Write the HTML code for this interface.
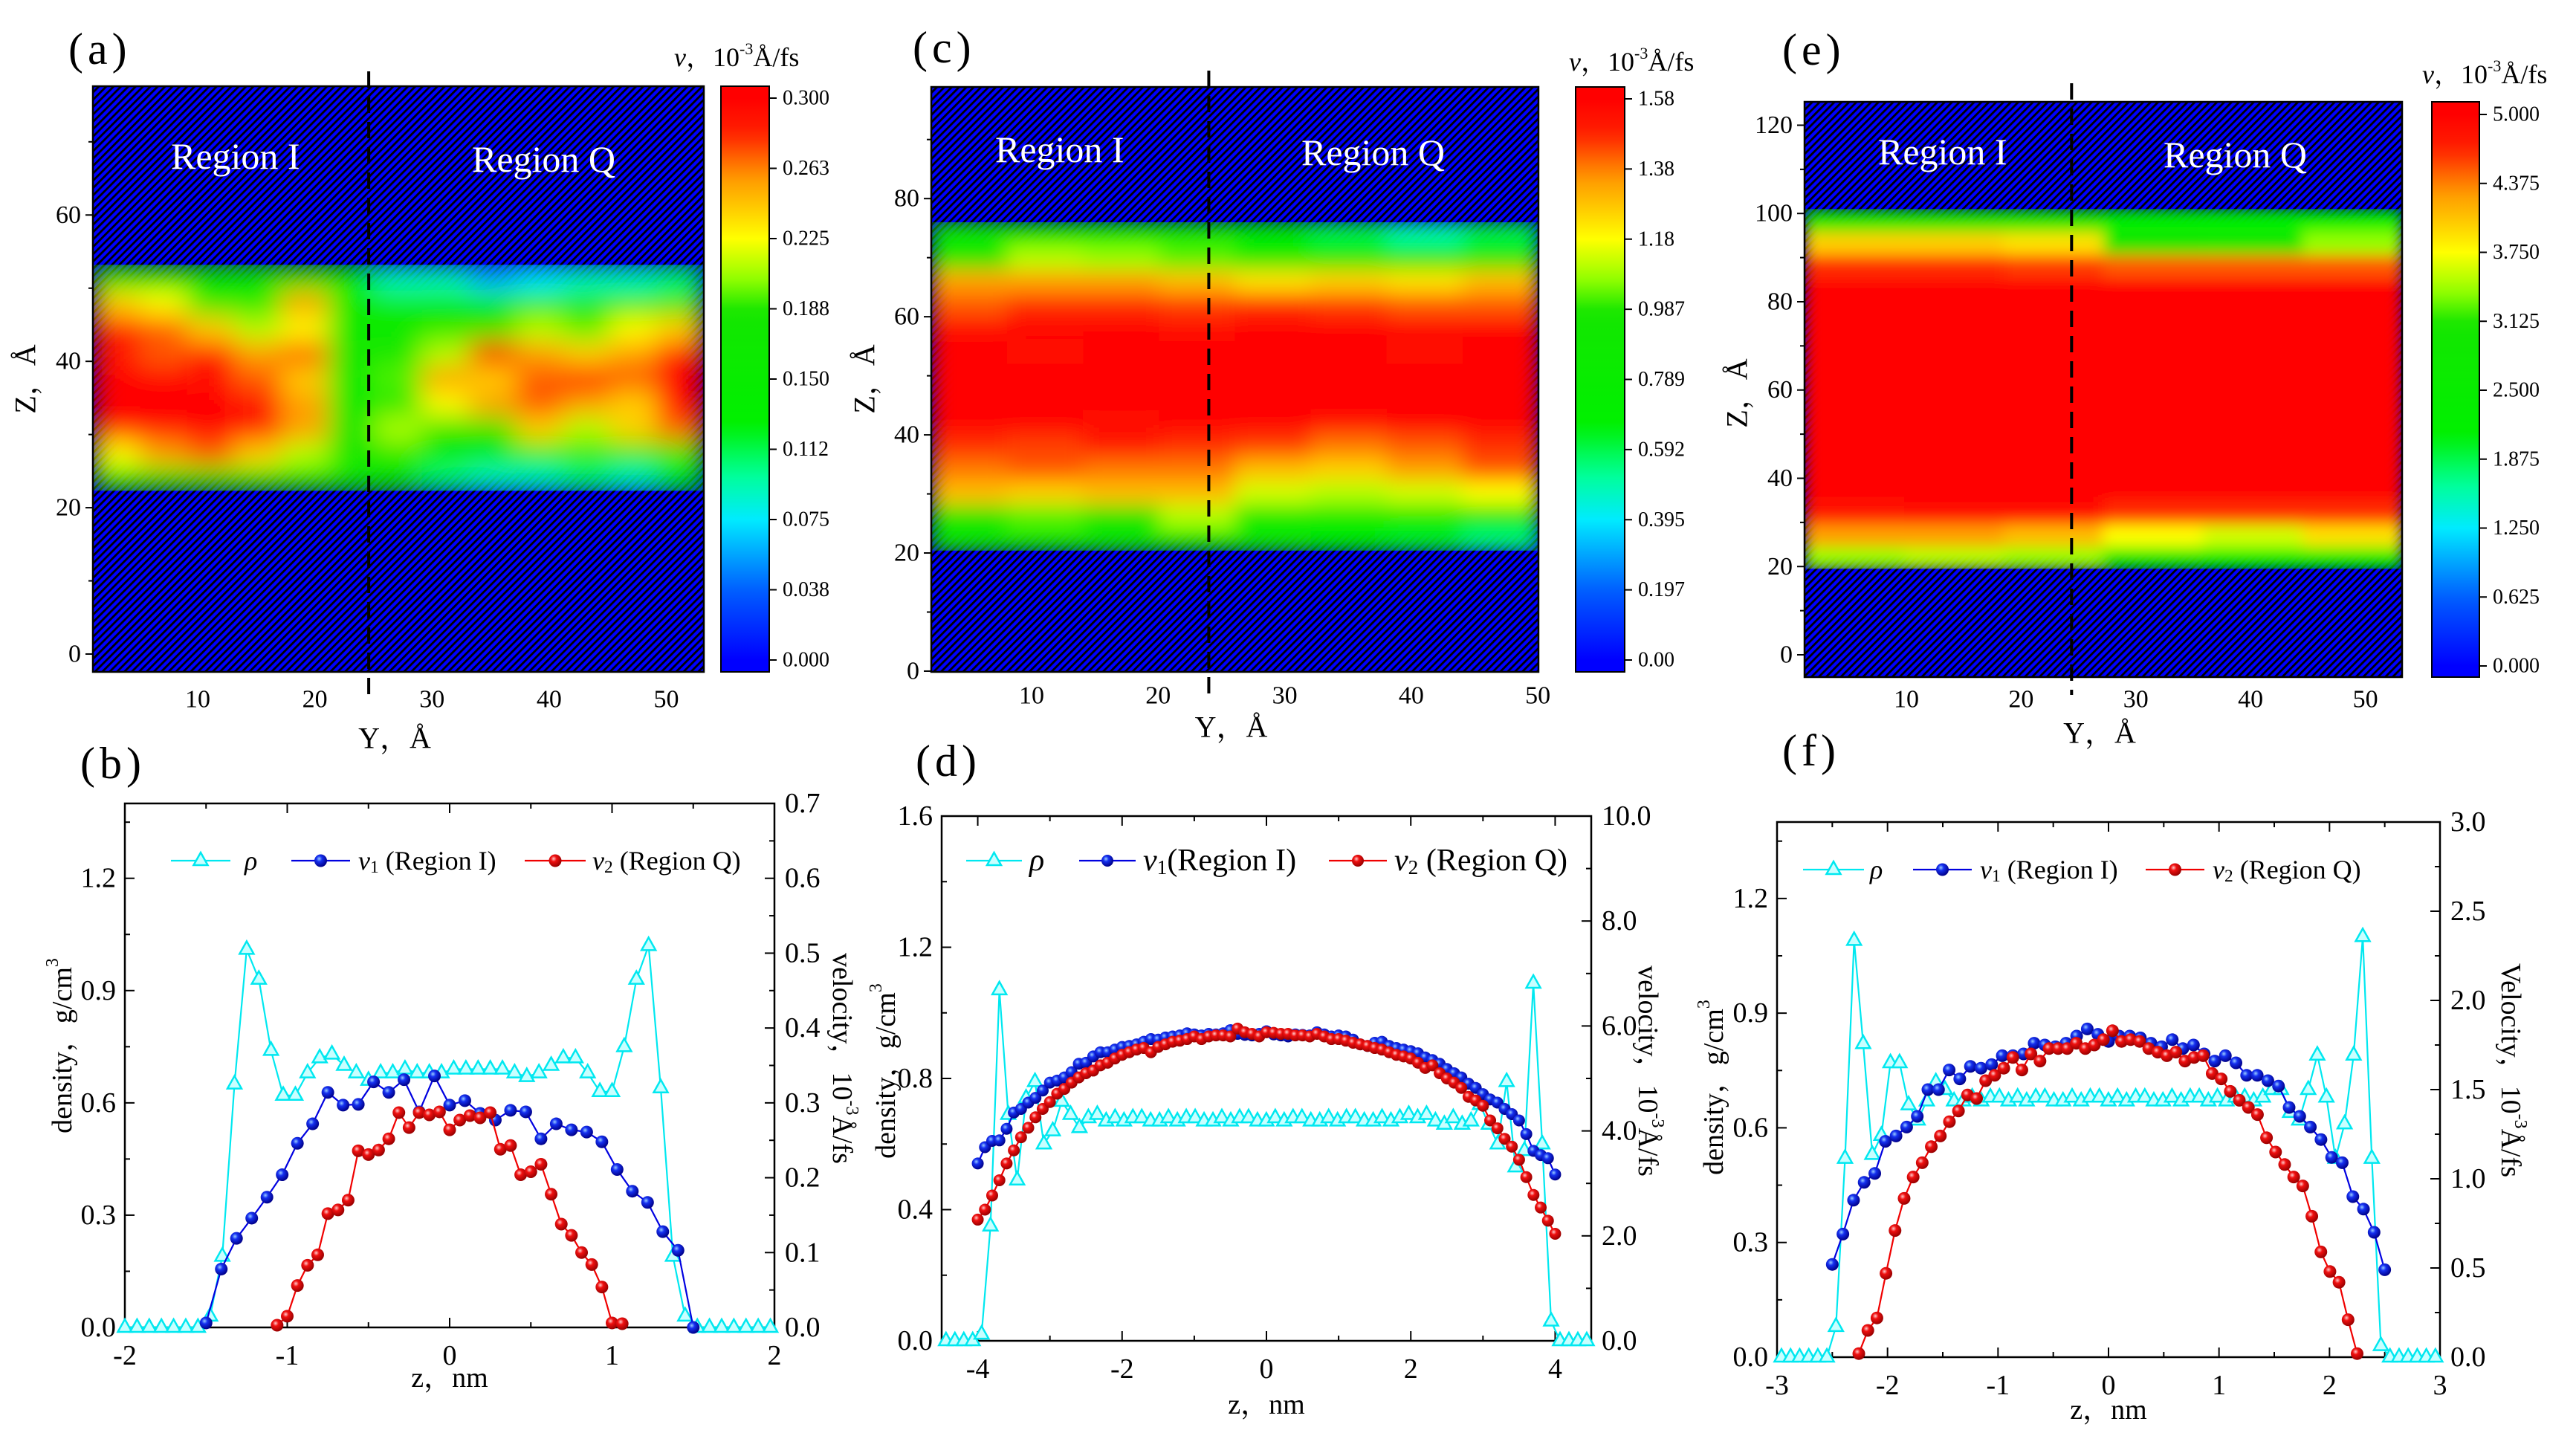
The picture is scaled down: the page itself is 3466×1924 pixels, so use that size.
<!DOCTYPE html>
<html><head><meta charset="utf-8"><title>Velocity and density profiles</title>
<style>
html,body{margin:0;padding:0;background:#fff;}
svg{display:block;font-family:"Liberation Serif","Noto Serif CJK SC",serif;}
svg text{font-family:"Liberation Serif","Noto Serif CJK SC",serif;}
</style></head>
<body>
<svg id="fig" xmlns="http://www.w3.org/2000/svg" width="3466" height="1924" viewBox="0 0 3466 1924">
<defs>
<pattern id="hatch" patternUnits="userSpaceOnUse" width="7" height="7" patternTransform="rotate(45)">
<rect width="7" height="7" fill="#0000ff"/><rect x="0" y="0" width="2.8" height="7" fill="#000"/>
</pattern>
<radialGradient id="gBlue" cx="0.38" cy="0.35" r="0.65"><stop offset="0" stop-color="#9cf"/><stop offset="0.35" stop-color="#1530f0"/><stop offset="1" stop-color="#00008a"/></radialGradient>
<radialGradient id="gRed" cx="0.38" cy="0.35" r="0.65"><stop offset="0" stop-color="#fcc"/><stop offset="0.35" stop-color="#f01010"/><stop offset="1" stop-color="#900"/></radialGradient>
</defs>
</svg>
<script>
// ---------------- data ----------------
const gridA = [
 [0.55,0.6,0.6,0.55,0.55,0.5,0.5,0.35,0.3,0.3,0.35,0.3,0.4],
 [0.75,0.85,0.9,0.8,0.7,0.6,0.6,0.5,0.5,0.45,0.55,0.5,0.6],
 [0.95,0.97,1.0,0.95,0.85,0.6,0.7,0.6,0.6,0.8,0.7,0.8,0.9],
 [1.0,1.0,1.0,0.95,0.85,0.55,0.6,0.75,0.85,0.9,0.85,0.8,1.0],
 [1.0,1.0,0.97,0.9,0.8,0.55,0.65,0.85,0.8,0.9,0.95,0.9,1.0],
 [0.95,0.9,0.95,0.85,0.9,0.6,0.6,0.7,0.95,0.85,0.8,0.85,0.95],
 [0.95,0.9,0.8,0.7,0.75,0.55,0.55,0.6,0.6,0.7,0.65,0.75,0.8],
 [0.8,0.75,0.6,0.6,0.85,0.55,0.5,0.5,0.5,0.5,0.55,0.5,0.6],
 [0.45,0.5,0.55,0.5,0.5,0.45,0.3,0.3,0.2,0.25,0.3,0.3,0.35]
];
const gridC = [
 [0.55,0.55,0.55,0.55,0.5,0.45,0.4,0.35],
 [0.62,0.65,0.62,0.7,0.55,0.55,0.55,0.55],
 [0.82,0.8,0.82,0.82,0.72,0.7,0.72,0.75],
 [0.88,0.9,0.88,0.88,0.82,0.8,0.85,0.9],
 [0.93,0.92,0.95,0.93,0.92,0.88,0.9,0.93],
 [1,1,0.97,1,1,0.97,1,1],
 [1,1,1,1,1,1,1,1],
 [1,1,1,1,1,1,1,1],
 [1,0.97,1,1,1,1,0.97,1],
 [0.97,1,1,0.97,1,1,1,1],
 [0.9,0.93,0.93,0.92,0.93,0.92,0.9,0.9],
 [0.85,0.85,0.85,0.82,0.78,0.8,0.78,0.82],
 [0.62,0.7,0.68,0.65,0.58,0.56,0.55,0.58],
 [0.5,0.52,0.5,0.5,0.45,0.38,0.32,0.38]
];
const gridE = [
 [0.68,0.7,0.68,0.5,0.45,0.45],
 [0.85,0.85,0.82,0.75,0.72,0.78],
 [0.95,0.97,0.97,0.93,0.93,0.93],
 [1,1,1,1,1,1],[1,1,1,1,1,1],[1,1,1,1,1,1],[1,1,1,1,1,1],[1,1,1,1,1,1],
 [1,1,1,1,1,1],[1,1,1,1,1,1],[1,1,1,1,1,1],[1,1,1,1,1,1],[1,1,1,1,1,1],
 [0.93,0.93,0.92,0.9,0.9,0.9],
 [0.8,0.8,0.78,0.62,0.6,0.68],
 [0.6,0.62,0.6,0.45,0.42,0.45]
];
const cbTicksA = ["0.000","0.038","0.075","0.112","0.150","0.188","0.225","0.263","0.300"];
const cbTicksC = ["0.00","0.197","0.395","0.592","0.789","0.987","1.18","1.38","1.58"];
const cbTicksE = ["0.000","0.625","1.250","1.875","2.500","3.125","3.750","4.375","5.000"];
const zTicksA = [0,20,40,60];
const zTicksC = [0,20,40,60,80];
const zTicksE = [0,20,40,60,80,100,120];
const yTicksHeat = [10,20,30,40,50];

const rhoB = [0,0,0,0,0,0,0,0.03,0.19,0.65,1.01,0.93,0.74,0.62,0.62,0.68,0.72,0.73,0.70,0.68,0.66,0.68,0.68,0.69,0.68,0.68,0.68,0.69,0.69,0.69,0.69,0.69,0.68,0.67,0.68,0.70,0.72,0.72,0.68,0.63,0.63,0.75,0.93,1.02,0.64,0.19,0.03,0,0,0,0,0,0,0];
const rhoB_z0 = -2, rhoB_dz = 0.075;
const v1B = [0.006,0.078,0.119,0.146,0.174,0.204,0.246,0.272,0.314,0.297,0.298,0.328,0.314,0.331,0.288,0.336,0.297,0.303,0.286,0.277,0.290,0.288,0.252,0.272,0.264,0.261,0.248,0.211,0.182,0.167,0.128,0.103,0];
const v1B_z0 = -1.5, v1B_dz = 0.09375;
const v2B = [0.003,0.015,0.056,0.083,0.097,0.152,0.157,0.170,0.236,0.231,0.237,0.252,0.287,0.267,0.287,0.284,0.288,0.264,0.277,0.283,0.280,0.287,0.238,0.243,0.204,0.208,0.218,0.178,0.138,0.123,0.100,0.084,0.054,0.006,0.005];
const v2B_z0 = -1.0625, v2B_dz = 0.0625;

const rhoD = [0,0,0,0,0.02,0.35,1.07,0.69,0.49,0.74,0.79,0.6,0.64,0.73,0.69,0.65,0.68,0.69,
 0.67,0.68,0.67,0.68,0.68,0.67,0.67,0.68,0.67,0.68,0.68,0.67,0.67,0.68,0.67,0.68,0.68,0.67,0.67,0.68,0.67,0.68,0.68,0.67,0.67,0.68,0.67,0.68,0.68,0.67,0.67,0.68,0.67,0.68,0.69,0.68,
 0.69,0.67,0.66,0.68,0.66,0.67,0.72,0.66,0.6,0.79,0.53,0.58,1.09,0.6,0.06,0,0,0,0];
const rhoD_z0 = -4.44, rhoD_dz = 0.1233;
const v1D = [3.38,3.69,3.81,3.82,4.04,4.35,4.42,4.54,4.63,4.77,
 4.92,4.96,5.02,5.12,5.28,5.30,5.42,5.50,5.50,5.55,
 5.60,5.62,5.65,5.70,5.75,5.74,5.78,5.80,5.82,5.86,
 5.84,5.82,5.85,5.84,5.86,5.92,5.85,5.83,5.82,5.85,
 5.90,5.84,5.82,5.80,5.84,5.83,5.82,5.88,5.84,5.80,
 5.82,5.80,5.74,5.65,5.62,5.68,5.70,5.62,5.58,5.55,
 5.52,5.48,5.40,5.35,5.28,5.18,5.10,5.02,4.90,4.82,
 4.70,4.60,4.54,4.42,4.32,4.20,3.94,3.62,3.54,3.48,3.17];
const v2D = [2.31,2.50,2.77,3.06,3.38,3.63,3.88,4.06,4.26,4.42,
 4.55,4.71,4.80,4.92,5.02,5.10,5.15,5.25,5.30,5.38,
 5.45,5.50,5.55,5.58,5.50,5.60,5.65,5.70,5.72,5.75,
 5.80,5.75,5.80,5.82,5.82,5.80,5.95,5.88,5.85,5.80,
 5.88,5.87,5.85,5.85,5.82,5.82,5.80,5.85,5.80,5.75,
 5.75,5.72,5.68,5.65,5.62,5.58,5.55,5.50,5.45,5.42,
 5.38,5.30,5.20,5.25,5.10,5.00,4.92,4.82,4.65,4.58,
 4.48,4.20,4.05,3.85,3.70,3.45,3.12,2.78,2.54,2.29,2.04];
const vD_z0 = -4, vD_dz = 0.1;

const rhoF = [0,0,0,0,0,0,0.08,0.52,1.09,0.82,0.53,0.58,0.77,0.77,0.66,0.62,0.67,0.72,0.70,0.67,
 0.67,0.68,0.67,0.68,0.68,0.67,0.68,0.67,0.68,0.68,0.67,0.67,0.68,0.67,0.68,0.68,0.67,0.68,0.67,0.68,0.68,0.67,0.67,0.68,0.67,0.68,0.68,0.67,0.68,0.67,0.68,0.68,0.67,
 0.68,0.70,0.70,0.64,0.62,0.70,0.79,0.68,0.52,0.61,0.79,1.10,0.52,0.03,0,0,0,0,0,0];
const rhoF_z0 = -2.96, rhoF_dz = 0.0822;
const v1F = [0.52,0.69,0.88,0.98,1.03,1.21,1.24,1.29,1.35,1.50,1.50,1.61,1.56,1.63,1.62,1.64,1.69,1.69,1.70,1.76,1.75,1.74,1.76,1.80,1.84,1.81,1.77,1.80,1.80,1.79,1.76,1.74,1.78,1.73,1.75,1.70,1.66,1.69,1.65,1.58,1.58,1.55,1.52,1.40,1.35,1.29,1.22,1.12,1.09,0.90,0.83,0.70,0.49];
const v1F_z0 = -2.5, v1F_dz = 0.09615;
const v2F = [0.02,0.15,0.22,0.47,0.71,0.89,1.01,1.09,1.18,1.24,1.32,1.38,1.47,1.45,1.55,1.58,1.62,1.68,1.61,1.70,1.66,1.73,1.73,1.73,1.76,1.73,1.75,1.78,1.83,1.77,1.78,1.77,1.73,1.71,1.69,1.71,1.66,1.68,1.69,1.59,1.56,1.49,1.44,1.40,1.36,1.23,1.15,1.08,1.01,0.96,0.79,0.59,0.48,0.42,0.21,0.02];
const v2F_z0 = -2.26, v2F_dz = 0.082;

// ---------------- helpers ----------------
const NS='http://www.w3.org/2000/svg';
const FONT='"Liberation Serif","Noto Serif CJK SC",serif';
const root=document.getElementById('fig');
const defs=root.querySelector('defs');
function mk(tag,parent,attrs){const e=document.createElementNS(NS,tag);for(const k in attrs)e.setAttribute(k,attrs[k]);parent.appendChild(e);return e;}
function txt(parent,x,y,s,size,anchor,name){
  const t=mk('text',parent,{x:x,y:y,'font-size':size,'font-family':FONT,'text-anchor':anchor||'start','dominant-baseline':'central',fill:'#000'});
  t.textContent=s;
  
  
  return t;
}
function ts(parent,s,attrs){const t=mk('tspan',parent,attrs||{});t.textContent=s;return t;}
const CM=[[0,[0,0,255]],[0.12,[0,90,255]],[0.25,[0,235,255]],[0.33,[0,255,150]],[0.42,[0,240,0]],[0.62,[20,230,0]],[0.68,[150,255,0]],[0.75,[255,255,0]],[0.86,[255,150,0]],[0.94,[255,30,0]],[1,[255,0,0]]];
function cmap(t){t=Math.max(0,Math.min(1,t));for(let i=1;i<CM.length;i++){if(t<=CM[i][0]){const a=CM[i-1],b=CM[i];const f=(t-a[0])/(b[0]-a[0]);return 'rgb('+a[1].map((v,j)=>Math.round(v+(b[1][j]-v)*f)).join(',')+')';}}return 'rgb(255,0,0)';}

// ---------------- heatmap panels ----------------
function drawHeat(c,grid,zTicks,cbTicks,id){
  const g=mk('g',root,{});
  
  
  const sx=Y=>c.x0+(Y-c.Ymin)/(c.Ymax-c.Ymin)*(c.x1-c.x0);
  const sz=Z=>c.y1-(Z-c.Zmin)/(c.Zmax-c.Zmin)*(c.y1-c.y0);
  const bg=mk('rect',g,{x:c.x0,y:c.y0,width:c.x1-c.x0,height:c.y1-c.y0,fill:'url(#hatch)'});
  
  
  const fid='blur'+id, cid='clip'+id;
  const f=mk('filter',defs,{id:fid,x:0,y:0,width:1,height:1});
  mk('feGaussianBlur',f,{stdDeviation:c.blur,edgeMode:'duplicate'});
  const bt=sz(c.band[1]), bb=sz(c.band[0]);
  const cp=mk('clipPath',defs,{id:cid});
  mk('rect',cp,{x:c.x0,y:bt,width:c.x1-c.x0,height:bb-bt});
  const outer=mk('g',g,{'clip-path':'url(#'+cid+')'});
  const cells=mk('g',outer,{filter:'url(#'+fid+')'});
  
  
  const nr=grid.length, nc=grid[0].length;
  const cw=(c.x1-c.x0)/nc, ch=(bb-bt)/nr;
  for(let r=0;r<nr;r++)for(let k=0;k<nc;k++){
    const cell=mk('rect',cells,{x:c.x0+k*cw,y:bb-(r+1)*ch,width:cw+1,height:ch+1,fill:cmap(grid[r][k])});
    
    
  }
  const fr=mk('rect',g,{x:c.x0,y:c.y0,width:c.x1-c.x0,height:c.y1-c.y0,fill:'none',stroke:'#000','stroke-width':2.5});
  
  
  const dx=sx(c.dashY);
  const dl=mk('line',g,{x1:dx,y1:c.dTop,x2:dx,y2:c.dBot,stroke:'#000','stroke-width':4,'stroke-dasharray':'22 12'});
  
  
  zTicks.forEach(z=>{
    const y=sz(z);
    mk('line',g,{x1:c.x0-10,y1:y,x2:c.x0,y2:y,stroke:'#000','stroke-width':2});
    txt(g,c.x0-16,y,String(z),34,'end','z-tick-label');
    const ym=sz(z+10);
    if(ym>c.y0) mk('line',g,{x1:c.x0-6,y1:ym,x2:c.x0,y2:ym,stroke:'#000','stroke-width':2});
  });
  yTicksHeat.forEach(v=>{ txt(g,sx(v),c.lblY,String(v),34,'middle','y-tick-label'); });
  txt(g,(c.x0+c.x1)/2-5,c.titleY,'Y，Å',40,'middle','x-axis-title');
  const zt=txt(g,c.zx,c.zy,'Z，Å',40,'middle','y-axis-title');
  zt.setAttribute('transform','rotate(-90 '+c.zx+' '+c.zy+')');
  const r1=txt(g,c.r1x,c.ry,'Region I',50,'start','region-i-label'); r1.setAttribute('fill','#fff');
  const r2=txt(g,c.r2x,c.ry+4,'Region Q',50,'start','region-q-label'); r2.setAttribute('fill','#fff');
  const pl=txt(g,c.px,c.py,'(' + id + ')',60,'start','panel-label'); pl.setAttribute('letter-spacing','6');
  const lg=mk('linearGradient',defs,{id:'cb'+id,gradientUnits:'userSpaceOnUse',x1:0,y1:c.cbBot,x2:0,y2:c.cbTop});
  for(let i=0;i<=40;i++){mk('stop',lg,{offset:i/40,'stop-color':cmap(i/40)});}
  const cb=mk('rect',g,{x:c.cbx0,y:c.y0,width:c.cbx1-c.cbx0,height:c.y1-c.y0,fill:'url(#cb'+id+')',stroke:'#000','stroke-width':2});
  
  
  cbTicks.forEach((s,i)=>{
    const y=c.cbBot-(c.cbBot-c.cbTop)*i/(cbTicks.length-1);
    mk('line',g,{x1:c.cbx1,y1:y,x2:c.cbx1+10,y2:y,stroke:'#000','stroke-width':2});
    txt(g,c.cbx1+18,y,s,28,'start','colorbar-tick-label');
  });
  const t=txt(g,c.tx,c.ty,'',36,'start','colorbar-title');
  ts(t,'v',{'font-style':'italic'}); ts(t,'，10'); ts(t,'-3',{'font-size':22,dy:-12}); ts(t,'Å/fs',{dy:12});
}
drawHeat({x0:125,x1:947,y0:116,y1:904,Ymin:1.06,Ymax:53.2,Zmin:-2.44,Zmax:77.6,band:[22.3,53.2],blur:18,
  dashY:24.6,dTop:96,dBot:934,lblY:941,titleY:993,zx:34,zy:510,r1x:230,r2x:635,ry:210,px:92,py:66,
  cbx0:970,cbx1:1035,cbTop:132,cbBot:888,tx:907,ty:77},gridA,zTicksA,cbTicksA,'a');
drawHeat({x0:1253,x1:2070,y0:117,y1:904,Ymin:2.07,Ymax:50.05,Zmin:-0.13,Zmax:98.9,band:[20.4,76],blur:14,
  dashY:24.0,dTop:95,dBot:935,lblY:936,titleY:978,zx:1163,zy:510,r1x:1339,r2x:1751,ry:201,px:1228,py:64,
  cbx0:2120,cbx1:2186,cbTop:133,cbBot:888,tx:2111,ty:83},gridC,zTicksC,cbTicksC,'c');
drawHeat({x0:2428,x1:3232,y0:137,y1:911,Ymin:1.13,Ymax:53.2,Zmin:-5.05,Zmax:125.3,band:[19.5,101],blur:10,
  dashY:24.4,dTop:112,dBot:935,lblY:941,titleY:986,zx:2337,zy:529,r1x:2527,r2x:2911,ry:204,px:2398,py:67,
  cbx0:3272,cbx1:3336,cbTop:154,cbBot:896,tx:3259,ty:100},gridE,zTicksE,cbTicksE,'e');

// ---------------- line panels ----------------
function drawLine(c,id,rho,rz0,rdz,v1,v1z0,v1dz,v2,v2z0,v2dz){
  const g=mk('g',root,{});
  
  
  const sx=z=>c.x0+(z-c.xmin)/(c.xmax-c.xmin)*(c.x1-c.x0);
  const syL=v=>c.y1-v/c.yLmax*(c.y1-c.y0);
  const syR=v=>c.y1-v/c.yRmax*(c.y1-c.y0);
  const fr=mk('rect',g,{x:c.x0,y:c.y0,width:c.x1-c.x0,height:c.y1-c.y0,fill:'none',stroke:'#000','stroke-width':2.5});
  
  
  const eps=1e-6;
  const xs=Math.ceil(c.xmin/c.xMinor-eps)*c.xMinor;
  for(let z=xs;z<=c.xmax+eps;z+=c.xMinor){
    const zz=Math.round(z*1000)/1000;
    const major=Math.abs(zz/c.xMajor-Math.round(zz/c.xMajor))<1e-6;
    const L=major?13:7, x=sx(zz);
    mk('line',g,{x1:x,y1:c.y1,x2:x,y2:c.y1-L,stroke:'#000','stroke-width':2});
    mk('line',g,{x1:x,y1:c.y0,x2:x,y2:c.y0+L,stroke:'#000','stroke-width':2});
    if(major) txt(g,x,c.y1+38,String(zz),38,'middle','x-tick-label');
  }
  for(let v=0;v<=c.yLmax+eps;v+=c.yLMinor){
    const vv=Math.round(v*1000)/1000;
    const major=Math.abs(vv/c.yLMajor-Math.round(vv/c.yLMajor))<1e-6;
    const y=syL(vv);
    mk('line',g,{x1:c.x0,y1:y,x2:c.x0+(major?13:7),y2:y,stroke:'#000','stroke-width':2});
    if(major && vv<=c.yLlabMax+eps) txt(g,c.x0-12,y,vv.toFixed(1),38,'end','left-tick-label');
  }
  for(let v=0;v<=c.yRmax+eps;v+=c.yRMinor){
    const vv=Math.round(v*1000)/1000;
    const major=Math.abs(vv/c.yRMajor-Math.round(vv/c.yRMajor))<1e-6;
    const y=syR(vv);
    mk('line',g,{x1:c.x1,y1:y,x2:c.x1-(major?13:7),y2:y,stroke:'#000','stroke-width':2});
    if(major) txt(g,c.x1+14,y,vv.toFixed(1),38,'start','right-tick-label');
  }
  txt(g,(c.x0+c.x1)/2,c.xtY,'z，nm',38,'middle','x-axis-title');
  const lt=txt(g,c.lx,c.ly,'',38,'middle','left-axis-title');
  ts(lt,'density，g/cm'); ts(lt,'3',{'font-size':24,dy:-13});
  lt.setAttribute('transform','rotate(-90 '+c.lx+' '+c.ly+')');
  const rt=txt(g,c.rx,c.ry,'',38,'middle','right-axis-title');
  ts(rt,c.rlab+'，10'); ts(rt,'-3',{'font-size':24,dy:-13}); ts(rt,'Å/fs',{dy:13});
  rt.setAttribute('transform','rotate(90 '+c.rx+' '+c.ry+')');
  const pl=txt(g,c.px,c.py,'('+id+')',60,'start','panel-label'); pl.setAttribute('letter-spacing','6');
  function tri(p,x,y,name){const t=mk('path',p,{d:'M'+x+','+(y-11)+'L'+(x+9.5)+','+(y+6)+'L'+(x-9.5)+','+(y+6)+'Z',fill:'#c8ffff',stroke:'#00e8f0','stroke-width':2.5});
    
    }
  function ball(p,x,y,fill,name){const b=mk('circle',p,{cx:x,cy:y,r:c.mr,fill:fill});
    
    }
  function series(vals,z0,dz,sy,color,kind,name){
    const sg=mk('g',g,{});
    
    
    const pts=vals.map((v,i)=>[sx(z0+i*dz),sy(v)]);
    mk('polyline',sg,{points:pts.map(p=>p[0].toFixed(1)+','+p[1].toFixed(1)).join(' '),fill:'none',stroke:color,'stroke-width':2.2});
    pts.forEach(p=>{ if(kind==='tri') tri(sg,p[0],p[1],'density-point'); else ball(sg,p[0],p[1],kind,'velocity-point'); });
  }
  series(rho,rz0,rdz,syL,'#00e8f0','tri','density-series');
  series(v1,v1z0,v1dz,syR,'#0000e0','url(#gBlue)','v1-region-i-series');
  series(v2,v2z0,v2dz,syR,'#f00000','url(#gRed)','v2-region-q-series');
  const lgd=mk('g',g,{});
  
  
  const L=c.leg, ly=c.legY;
  mk('line',lgd,{x1:L[0][0],y1:ly,x2:L[0][1],y2:ly,stroke:'#00e8f0','stroke-width':2.2});
  tri(lgd,(L[0][0]+L[0][1])/2,ly,'legend-density-marker');
  const t1=txt(lgd,L[0][2],ly,'ρ',c.lfs,'start','legend-density-label'); t1.setAttribute('font-style','italic');
  mk('line',lgd,{x1:L[1][0],y1:ly,x2:L[1][1],y2:ly,stroke:'#0000e0','stroke-width':2.2});
  ball(lgd,(L[1][0]+L[1][1])/2,ly,'url(#gBlue)','legend-v1-marker');
  const t2=txt(lgd,L[1][2],ly,'',c.lfs,'start','legend-v1-label');
  ts(t2,'v',{'font-style':'italic'}); ts(t2,'1',{'font-size':c.lfs*0.65,dy:9}); ts(t2,c.gap+'(Region I)',{dy:-9});
  mk('line',lgd,{x1:L[2][0],y1:ly,x2:L[2][1],y2:ly,stroke:'#f00000','stroke-width':2.2});
  ball(lgd,(L[2][0]+L[2][1])/2,ly,'url(#gRed)','legend-v2-marker');
  const t3=txt(lgd,L[2][2],ly,'',c.lfs,'start','legend-v2-label');
  ts(t3,'v',{'font-style':'italic'}); ts(t3,'2',{'font-size':c.lfs*0.65,dy:9}); ts(t3,' (Region Q)',{dy:-9});
}
drawLine({x0:168,x1:1042,y0:1081,y1:1786,xmin:-2,xmax:2,xMajor:1,xMinor:0.5,
  yLmax:1.4,yLMajor:0.3,yLMinor:0.15,yLlabMax:1.2,yRmax:0.7,yRMajor:0.1,yRMinor:0.05,
  xtY:1854,lx:84,ly:1407,rx:1133,ry:1424,rlab:'velocity',px:108,py:1027,mr:8.5,
  leg:[[230,310,329],[392,471,482],[706,788,797]],legY:1158,lfs:36,gap:' '},
  'b',rhoB,rhoB_z0,rhoB_dz,v1B,v1B_z0,v1B_dz,v2B,v2B_z0,v2B_dz);
drawLine({x0:1267,x1:2141,y0:1098,y1:1804,xmin:-4.5,xmax:4.5,xMajor:2,xMinor:1,
  yLmax:1.6,yLMajor:0.4,yLMinor:0.2,yLlabMax:1.6,yRmax:10,yRMajor:2,yRMinor:1,
  xtY:1890,lx:1192,ly:1441,rx:2217,ry:1441,rlab:'velocity',px:1232,py:1024,mr:8,
  leg:[[1300,1375,1385],[1452,1528,1538],[1788,1866,1876]],legY:1158,lfs:42,gap:''},
  'd',rhoD,rhoD_z0,rhoD_dz,v1D,vD_z0,vD_dz,v2D,vD_z0,vD_dz);
drawLine({x0:2391,x1:3283,y0:1106,y1:1826,xmin:-3,xmax:3,xMajor:1,xMinor:0.5,
  yLmax:1.4,yLMajor:0.3,yLMinor:0.15,yLlabMax:1.2,yRmax:3,yRMajor:0.5,yRMinor:0.25,
  xtY:1897,lx:2306,ly:1463,rx:3378,ry:1440,rlab:'Velocity',px:2398,py:1010,mr:8.5,
  leg:[[2426,2508,2516],[2574,2653,2664],[2887,2966,2977]],legY:1170,lfs:36,gap:' '},
  'f',rhoF,rhoF_z0,rhoF_dz,v1F,v1F_z0,v1F_dz,v2F,v2F_z0,v2F_dz);
</script>
</body></html>
